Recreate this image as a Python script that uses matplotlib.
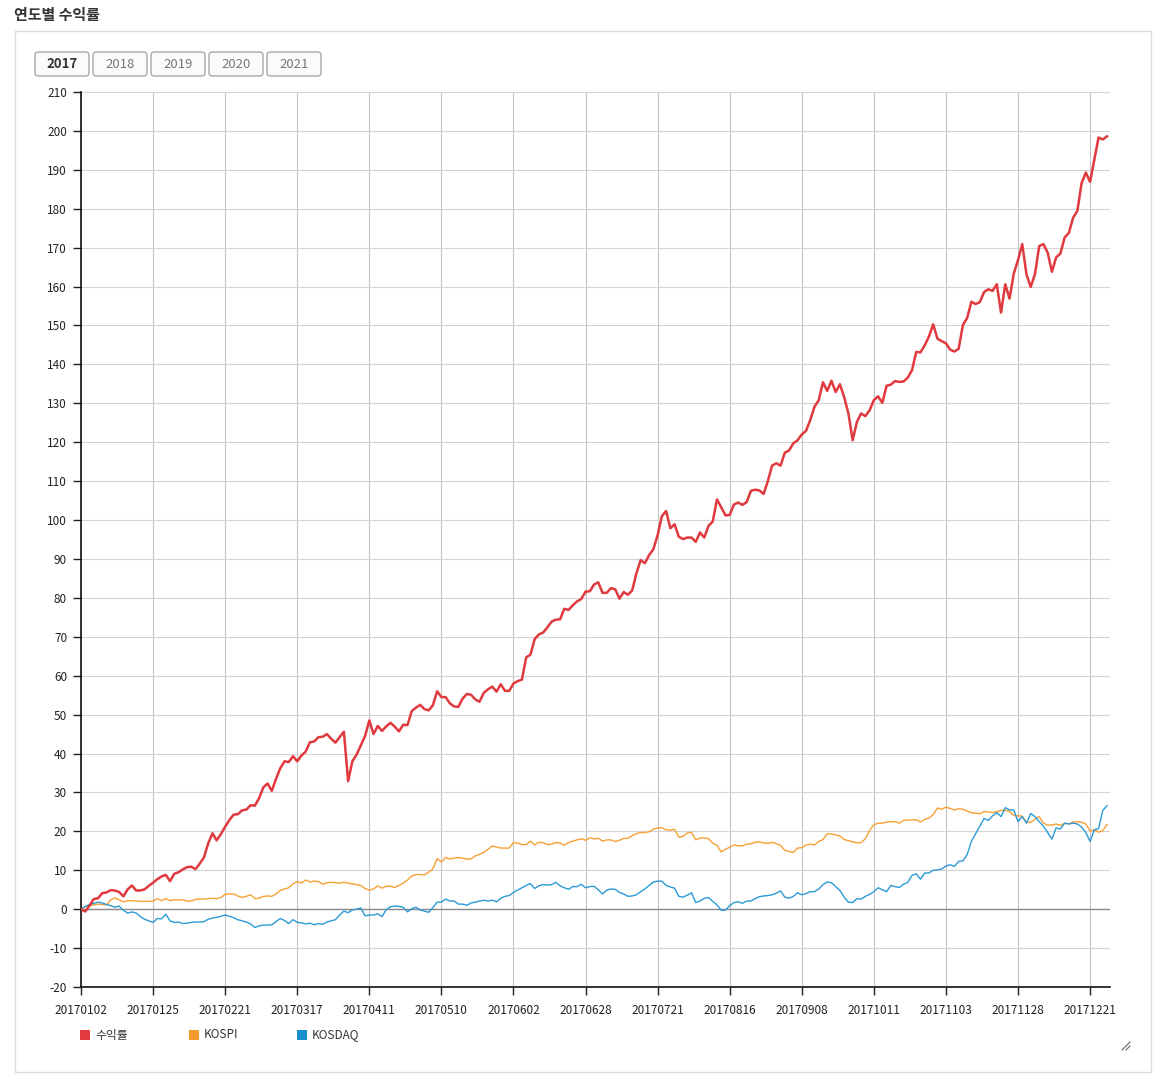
import matplotlib
matplotlib.use("Agg")
import matplotlib.pyplot as plt
from matplotlib.patches import Rectangle, FancyBboxPatch
from matplotlib.lines import Line2D

plt.rcParams['font.family'] = ['Noto Sans CJK KR', 'DejaVu Sans']
plt.rcParams['axes.unicode_minus'] = False

title = "연도별 수익률"
years = ["2017", "2018", "2019", "2020", "2021"]
series_names = ["수익률", "KOSPI", "KOSDAQ"]
tick_labels = ["20170102", "20170125", "20170221", "20170317", "20170411", "20170510",
               "20170602", "20170628", "20170721", "20170816", "20170908", "20171011",
               "20171103", "20171128", "20171221"]
tick_step = 17

returns = [
    0, -0.6, 0.9, 2.6, 2.8, 4.1, 4.3, 4.9, 4.8, 4.4, 3.3, 5.1, 6.1, 4.8, 4.8, 5.1, 6.0,
    6.8, 7.7, 8.4, 8.8, 7.2, 9.1, 9.5, 10.2, 10.8, 10.9, 10.3, 11.7, 13.3, 16.9, 19.5, 17.7, 19.3,
    21.2, 22.9, 24.3, 24.4, 25.4, 25.6, 26.7, 26.6, 28.5, 31.3, 32.3, 30.4, 33.5, 36.2, 38.0, 37.8, 39.3,
    38.0, 39.5, 40.5, 42.9, 43.1, 44.2, 44.3, 45.0, 43.8, 42.8, 44.2, 45.6, 32.9, 38.0, 39.7, 42.1, 44.5,
    48.5, 45.0, 47.1, 45.8, 47.0, 47.9, 46.9, 45.7, 47.4, 47.3, 50.9, 51.8, 52.5, 51.4, 51.1, 52.4, 56.0,
    54.5, 54.5, 52.9, 52.1, 52.0, 54.1, 55.3, 55.1, 53.9, 53.3, 55.6, 56.5, 57.2, 55.9, 57.8, 56.1, 56.1,
    58.0, 58.6, 59.0, 64.7, 65.4, 69.4, 70.6, 71.1, 72.4, 73.9, 74.4, 74.5, 77.2, 76.9, 78.1, 79.1, 79.7,
    81.6, 81.7, 83.4, 84.0, 81.3, 81.3, 82.5, 82.2, 79.8, 81.5, 80.8, 81.9, 86.3, 89.7, 88.9, 91.0, 92.5,
    96.1, 101.0, 102.3, 97.9, 98.9, 95.7, 95.1, 95.5, 95.5, 94.4, 96.8, 95.5, 98.5, 99.6, 105.3, 103.3, 101.2,
    101.3, 104.0, 104.5, 103.9, 104.6, 107.5, 107.8, 107.6, 106.7, 110.0, 114.0, 114.6, 114.0, 117.3, 117.9, 119.7, 120.5,
    122.0, 122.9, 125.7, 129.1, 130.8, 135.4, 133.2, 135.8, 132.9, 134.9, 131.6, 127.4, 120.5, 125.2, 127.4, 126.7, 128.2,
    130.8, 131.8, 130.1, 134.5, 134.8, 135.7, 135.5, 135.6, 136.6, 138.5, 143.2, 143.1, 144.9, 147.2, 150.3, 146.6, 146.0,
    145.4, 143.8, 143.3, 144.0, 150.1, 151.9, 156.1, 155.5, 156.0, 158.6, 159.3, 158.9, 160.6, 153.3, 160.6, 156.9, 163.3,
    166.8, 170.9, 163.1, 159.9, 163.2, 170.4, 170.9, 168.7, 163.8, 167.5, 168.5, 172.6, 173.8, 177.7, 179.4, 186.6, 189.3,
    186.9, 192.6, 198.3, 197.8, 198.6,
]

kospi = [
    0, 0.7, 0.9, 1.1, 1.3, 1.2, 1.1, 2.4, 2.9, 2.4, 1.9, 2.2, 2.2, 2.1, 2.0, 2.0, 2.0,
    2.1, 2.7, 2.2, 2.7, 2.2, 2.4, 2.4, 2.4, 2.1, 2.1, 2.5, 2.6, 2.6, 2.7, 2.8, 2.7, 3.0,
    3.8, 3.9, 3.9, 3.4, 3.0, 3.3, 3.7, 2.7, 2.8, 3.3, 3.4, 3.3, 3.9, 4.8, 5.2, 5.5, 6.5,
    7.1, 6.7, 7.5, 7.0, 7.2, 7.1, 6.4, 6.8, 6.9, 6.8, 6.7, 6.9, 6.7, 6.5, 6.3, 6.1, 5.3,
    4.9, 5.2, 6.0, 5.4, 5.9, 5.9, 5.6, 6.1, 6.7, 7.5, 8.5, 8.9, 8.9, 8.8, 9.5, 10.4, 13.0,
    12.1, 13.3, 12.9, 13.1, 13.3, 13.1, 12.9, 12.9, 13.7, 14.1, 14.6, 15.4, 16.2, 16.0, 15.7, 15.7, 15.7,
    17.1, 17.0, 16.6, 16.6, 17.5, 16.5, 17.2, 17.1, 16.6, 16.7, 17.1, 17.0, 16.4, 17.1, 17.5, 17.8, 18.1,
    17.7, 18.3, 18.1, 18.2, 17.5, 17.8, 17.8, 17.4, 17.7, 18.2, 18.2, 18.9, 19.4, 19.7, 19.7, 19.9, 20.6,
    20.9, 20.9, 20.4, 20.3, 20.5, 18.5, 18.7, 19.6, 19.8, 17.8, 18.3, 18.3, 18.1, 17.0, 16.4, 14.7, 15.4,
    15.9, 16.5, 16.3, 16.3, 16.7, 16.8, 17.2, 17.3, 17.0, 16.9, 17.2, 16.8, 16.4, 15.1, 14.8, 14.6, 15.7,
    15.8, 16.5, 16.7, 16.5, 17.4, 17.9, 19.4, 19.3, 19.1, 18.8, 17.9, 17.6, 17.3, 17.1, 17.1, 18.1, 20.2,
    21.7, 22.1, 22.1, 22.4, 22.5, 22.5, 22.1, 22.8, 22.9, 22.9, 23.0, 22.4, 23.1, 23.4, 24.3, 26.0, 25.7,
    26.2, 25.9, 25.5, 25.8, 25.7, 25.2, 24.8, 24.7, 24.5, 25.1, 25.0, 24.8, 25.1, 25.4, 25.4, 25.1, 24.1,
    24.0, 23.9, 22.3, 22.3, 23.1, 23.8, 22.1, 21.6, 21.6, 21.9, 21.5, 22.1, 21.9, 22.4, 22.5, 22.3, 21.9,
    20.1, 20.4, 19.8, 20.2, 21.8,
]

kosdaq = [
    0, 0.7, 1.2, 1.5, 1.8, 1.6, 1.2, 0.9, 0.5, 0.8, -0.3, -1.0, -0.7, -1.0, -1.9, -2.6, -3.0,
    -3.4, -2.4, -2.5, -1.3, -3.0, -3.4, -3.3, -3.7, -3.6, -3.4, -3.3, -3.3, -3.2, -2.6, -2.3, -2.1, -1.8,
    -1.5, -1.8, -2.2, -2.7, -3.0, -3.3, -3.8, -4.7, -4.3, -4.1, -4.1, -4.0, -3.2, -2.4, -2.9, -3.7, -2.7,
    -3.4, -3.5, -3.8, -3.6, -4.0, -3.7, -3.9, -3.3, -3.0, -2.7, -1.5, -0.5, -0.9, -0.2, 0.0, 0.3, -1.7,
    -1.5, -1.5, -1.2, -1.9, -0.1, 0.6, 0.8, 0.7, 0.5, -0.7, 0.1, 0.5, -0.2, -0.5, -0.8, 0.4, 1.8,
    1.8, 2.6, 2.1, 2.1, 1.3, 1.3, 1.0, 1.6, 1.8, 2.1, 2.3, 2.1, 2.3, 1.9, 2.8, 3.3, 3.5,
    4.3, 4.9, 5.5, 6.1, 6.6, 5.3, 6.0, 6.3, 6.2, 6.3, 6.9, 6.0, 5.5, 5.1, 5.8, 5.8, 6.4,
    5.5, 5.8, 5.9, 5.0, 3.9, 4.9, 5.2, 5.1, 4.3, 3.9, 3.3, 3.4, 3.7, 4.5, 5.2, 6.1, 7.0,
    7.2, 7.2, 6.1, 5.7, 5.4, 3.3, 3.1, 3.6, 4.2, 1.7, 2.1, 2.8, 3.0, 2.0, 1.1, -0.3, -0.2,
    0.9, 1.7, 1.9, 1.5, 2.1, 2.1, 2.7, 3.2, 3.4, 3.5, 3.7, 4.1, 4.7, 3.1, 2.8, 3.3, 4.2,
    3.7, 4.0, 4.5, 4.5, 5.2, 6.3, 7.0, 6.8, 5.8, 4.8, 3.1, 1.8, 1.7, 2.7, 2.6, 3.3, 3.8,
    4.5, 5.5, 5.0, 4.5, 6.1, 5.8, 5.6, 6.4, 6.9, 8.7, 9.1, 7.7, 9.3, 9.3, 10.0, 10.1, 10.3,
    11.1, 11.4, 11.0, 12.3, 12.4, 14.0, 17.4, 19.4, 21.3, 23.3, 22.8, 24.0, 24.8, 23.8, 26.1, 25.5, 25.5,
    22.5, 23.8, 22.1, 24.6, 23.8, 22.5, 21.3, 19.7, 18.0, 20.9, 20.6, 22.1, 21.9, 22.1, 21.9, 21.1, 19.7,
    17.4, 20.4, 20.7, 25.4, 26.6,
]

colors = ["#e0393e", "#f7a035", "#2b9ad6"]
legend_colors = ["#e0393e", "#f39a2c", "#1a8fd0"]

W, H = 1166, 1088
fig = plt.figure(figsize=(W / 100, H / 100), dpi=100)
fig.patch.set_facecolor("white")

def fx(x):
    return x / W

def fy(y):
    return 1 - y / H

# Title
fig.text(fx(14), fy(15), title, fontsize=10.8, fontweight="bold", color="#333333",
         ha="left", va="center")

# Panel border
fig.add_artist(Rectangle((fx(15), fy(1072)), fx(1151) - fx(15), fy(31) - fy(1072),
                         transform=fig.transFigure, fill=False, edgecolor="#dcdcdc", lw=1))

# Year buttons
bx0 = 35
for i, yr in enumerate(years):
    x0 = bx0 + i * 58
    fig.add_artist(FancyBboxPatch((fx(x0), fy(76)), fx(54), (fy(52) - fy(76)),
                                  boxstyle="round,pad=0,rounding_size=0.003",
                                  transform=fig.transFigure, facecolor="#fbfbfb",
                                  edgecolor="#a8a8a8", lw=1))
    fig.text(fx(x0 + 27), fy(64), yr, fontsize=9.5,
             color="#333333" if i == 0 else "#777777",
             fontweight="bold" if i == 0 else "normal", ha="center", va="center")

# Axes
ax = fig.add_axes([fx(81), fy(987), fx(1110) - fx(81), fy(92) - fy(987)])
x = list(range(len(returns)))
ax.set_xlim(0, 242.7)
ax.set_ylim(-20, 210)
ax.set_yticks(range(-20, 211, 10))
ax.set_xticks(range(0, len(returns), tick_step))
ax.set_xticklabels(tick_labels)
ax.tick_params(axis="both", labelsize=8.5, colors="#222222", length=6, width=1, direction="out")
ax.tick_params(axis="x", pad=6)
ax.tick_params(axis="y", pad=4)
ax.grid(axis="y", color="#d4d4d4", lw=0.8)
ax.grid(axis="x", color="#c4c4c4", lw=0.8)
ax.set_axisbelow(True)
for s in ["top", "right"]:
    ax.spines[s].set_visible(False)
for s in ["left", "bottom"]:
    ax.spines[s].set_color("#111111")
    ax.spines[s].set_linewidth(1.2)
ax.axhline(0, color="#8a8a8a", lw=1.0, zorder=1.5)

ax.plot(x, kospi, color=colors[1], lw=1.0, zorder=3)
ax.plot(x, kosdaq, color=colors[2], lw=1.0, zorder=3)
ax.plot(x, returns, color=colors[0], lw=1.8, zorder=4)

# Legend
lx = [80, 189, 297]
for i, name in enumerate(series_names):
    fig.add_artist(Rectangle((fx(lx[i]), fy(1040)), fx(10), fy(1030) - fy(1040),
                             transform=fig.transFigure, facecolor=legend_colors[i], edgecolor="none"))
    fig.text(fx(lx[i] + 15), fy(1035), name, fontsize=8.5, color="#333333",
             ha="left", va="center")

# Resize grip
fig.add_artist(Line2D([fx(1122), fx(1130)], [fy(1050), fy(1042)], transform=fig.transFigure,
                      color="#666666", lw=0.8))
fig.add_artist(Line2D([fx(1126), fx(1130)], [fy(1050), fy(1046)], transform=fig.transFigure,
                      color="#666666", lw=0.8))

fig.savefig("out.png", dpi=100, facecolor="white")
